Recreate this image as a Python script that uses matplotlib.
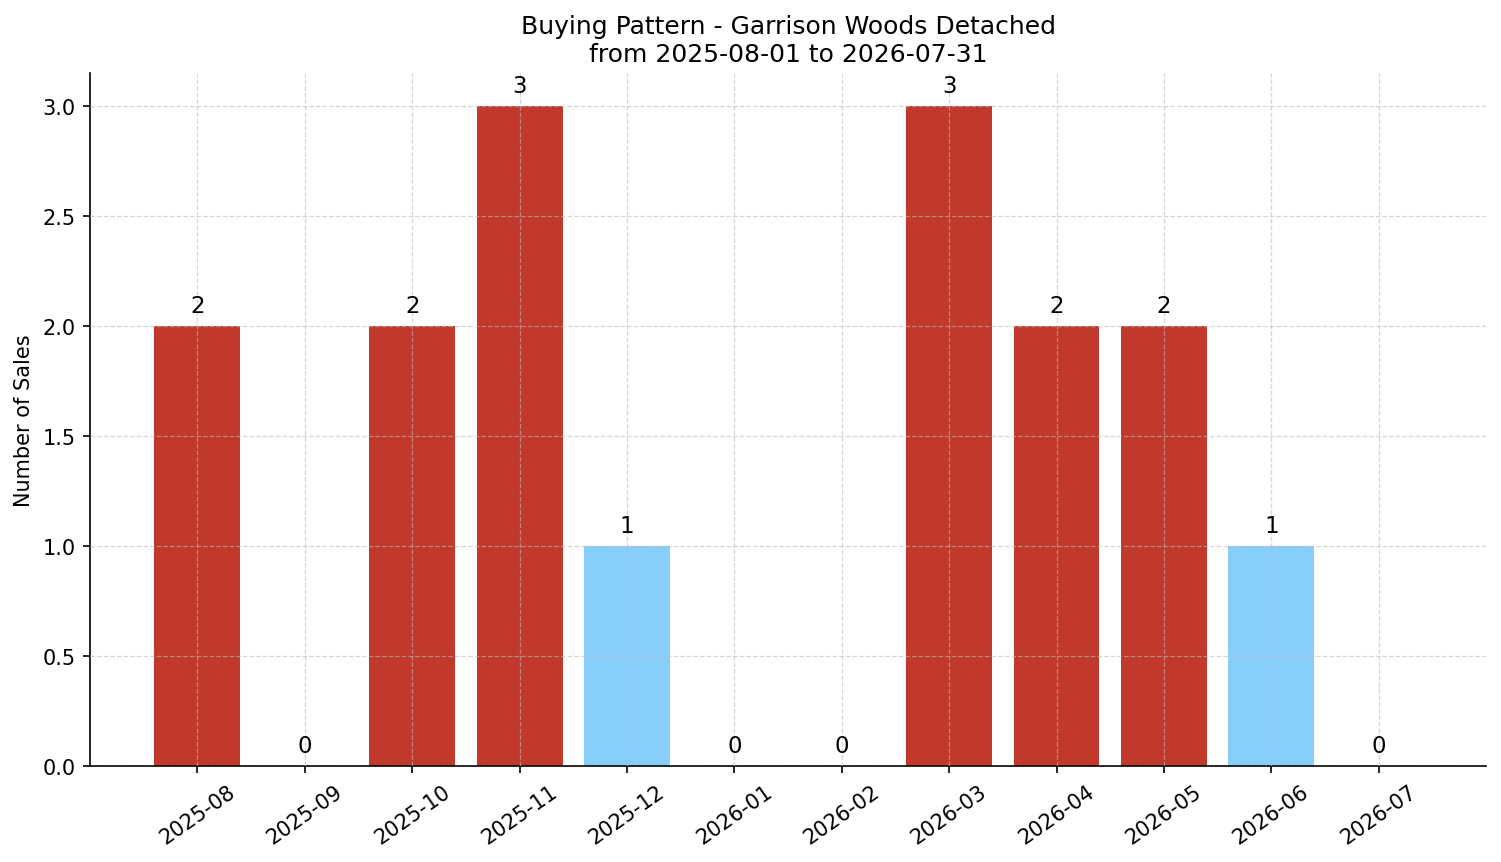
import numpy as np
import matplotlib.pyplot as plt

months = ['2025-08', '2025-09', '2025-10', '2025-11', '2025-12', '2026-01',
          '2026-02', '2026-03', '2026-04', '2026-05', '2026-06', '2026-07']
sales = [2, 0, 2, 3, 1, 0, 0, 3, 2, 2, 1, 0]

red = '#c0392b'
blue = '#87cefa'
colors = [blue if s == 1 else red for s in sales]

fig = plt.figure(figsize=(10.007, 5.753), dpi=150)
ax = fig.add_axes([0.060, 0.111, 0.930, 0.803])

x = np.arange(len(months))
ax.bar(x, sales, width=0.8, color=colors, zorder=2)
for xi, s in zip(x, sales):
    ax.text(xi, s + 0.04, str(s), ha='center', va='bottom', fontsize=11, zorder=4)

ax.set_xticks(x)
ax.set_xticklabels(months, rotation=35)
ax.set_xlim(-1, 12)
ax.set_ylim(0, 3.15)
ax.set_ylabel('Number of Sales', fontsize=10)
ax.set_title('Buying Pattern - Garrison Woods Detached\nfrom 2025-08-01 to 2026-07-31', fontsize=12)
ax.tick_params(labelsize=10)
ax.set_axisbelow(False)
ax.grid(True, linestyle='--', color='#bbbbbb', linewidth=0.6, alpha=0.6, zorder=3)
ax.spines['top'].set_visible(False)
ax.spines['right'].set_visible(False)

fig.savefig('out.png', dpi=150)
